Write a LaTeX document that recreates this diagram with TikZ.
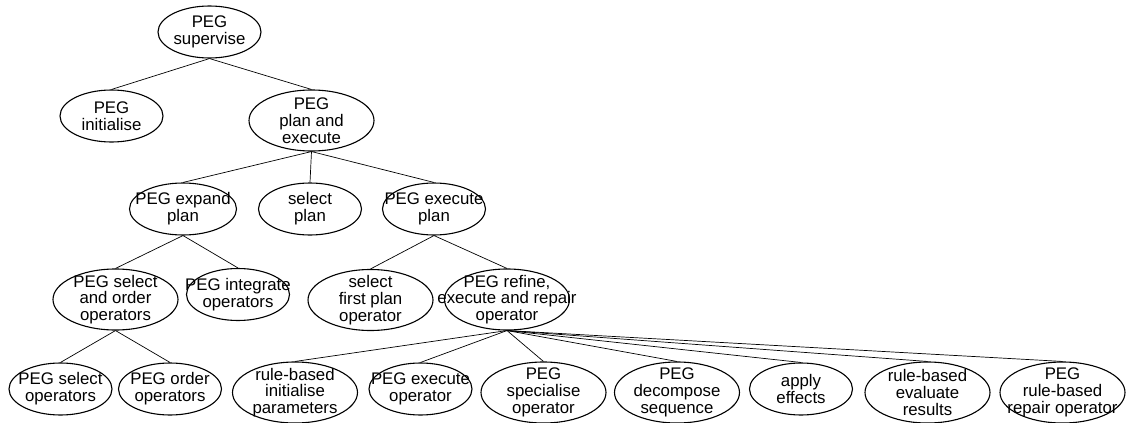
\documentclass[tikz,border=0pt]{standalone}
\usepackage{fontspec}
\setmainfont{Liberation Sans}
\usetikzlibrary{shapes.geometric}
\begin{document}
\begin{tikzpicture}[x=1pt, y=-1pt,
  txt/.style={inner sep=0pt, align=center, font=\fontsize{16.8}{16.8}\selectfont},
  oval/.style={ellipse, draw, line width=1.1pt, inner sep=0pt},
  small/.style={oval, minimum width=103pt, minimum height=52pt},
  large/.style={oval, minimum width=125pt, minimum height=61pt},
  tag/.style={label={[txt]center:#1}},
  edge/.style={line width=0.7pt}]
\useasboundingbox (0,0) rectangle (1133,423);

% level 0
\node[small, tag={PEG\\supervise}] (sup) at (209.5,32) {};
% level 1
\node[small, tag={PEG\\initialise}] (init) at (111.5,116) {};
\node[large, tag={PEG\\plan and\\execute}] (pe) at (311.5,120.5) {};
% level 2
\node[small, minimum width=107pt, tag={PEG expand\\plan}] (expand) at (183,209) {};
\node[small, tag={select\\plan}] (selplan) at (310,209) {};
\node[small, tag={PEG execute\\plan}] (execplan) at (434,209) {};
% level 3
\node[large, tag={PEG select\\and order\\operators}] (selord) at (115.5,299.5) {};
\node[small, tag={PEG integrate\\operators}] (integ) at (238,294.5) {};
\node[large, tag={select\\first plan\\operator}] (first) at (370.5,300) {};
\node[large, tag={PEG refine,\\execute and repair\\operator}] (refine) at (507,299.5) {};
% level 4
\node[small, tag={PEG select\\operators}] (selops) at (60.5,389) {};
\node[small, tag={PEG order\\operators}] (ordops) at (170,389) {};
\node[large, tag={rule-based\\initialise\\parameters}] (rbinit) at (295,392.5) {};
\node[small, tag={PEG execute\\operator}] (execop) at (420.5,389) {};
\node[large, tag={PEG\\specialise\\operator}] (spec) at (543.5,392.5) {};
\node[large, tag={PEG\\decompose\\sequence}] (decomp) at (677,392.5) {};
\node[small, tag={apply\\effects}] (apply) at (801,389) {};
\node[large, tag={rule-based\\evaluate\\results}] (evalr) at (927.5,392.5) {};
\node[large, tag={PEG\\rule-based\\repair operator}] (repair) at (1062.5,392.5) {};

% tree edges, parent bottom to child top
\foreach \p/\c in {sup/init, sup/pe,
                   pe/expand, pe/selplan, pe/execplan,
                   expand/selord, expand/integ,
                   execplan/first, execplan/refine,
                   selord/selops, selord/ordops,
                   refine/rbinit, refine/execop, refine/spec, refine/decomp,
                   refine/apply, refine/evalr, refine/repair}
  \draw[edge] (\p.south) -- (\c.north);
\end{tikzpicture}
\end{document}
